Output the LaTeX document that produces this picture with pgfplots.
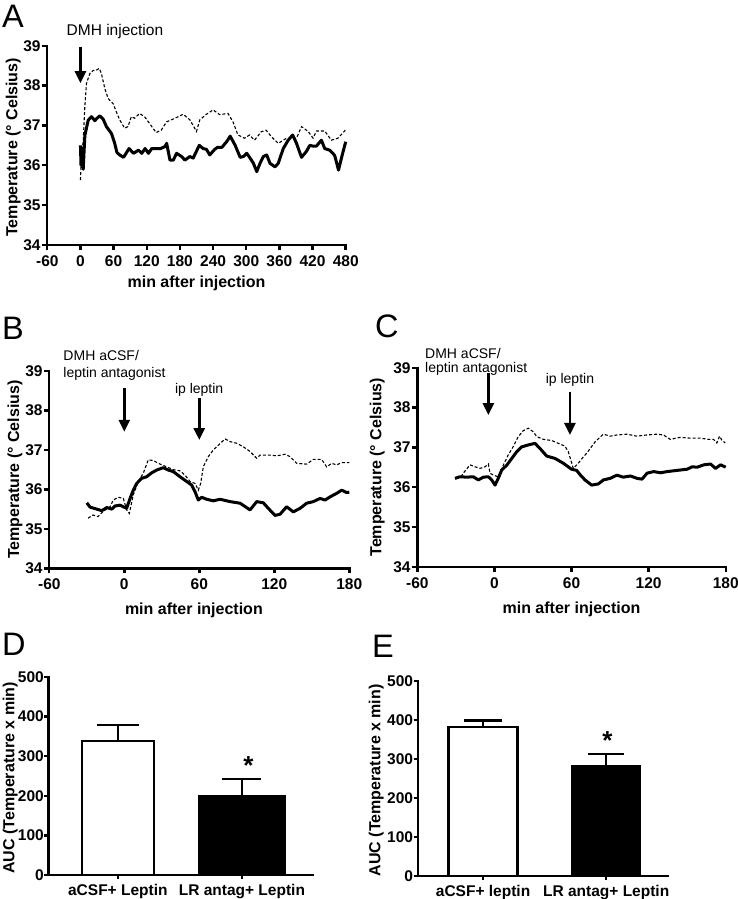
\documentclass[border=0pt]{standalone}
\usepackage{fontspec}
\setmainfont{Liberation Sans}
\usepackage{pgfplots}
\pgfplotsset{compat=1.18}
\usetikzlibrary{arrows.meta}
\pgfplotsset{
  gp/.style={
    scale only axis, axis lines*=left, clip=false, anchor=south west,
    axis line style={line width=2.4pt, line cap=rect},
    every tick/.style={black, line width=2.4pt},
    major tick length=5pt, tick align=outside,
    tick label style={font=\bfseries\fontsize{15.5}{15.5}\selectfont},
    yticklabel style={inner sep=1.5pt},
    xticklabel style={yshift=-2pt},
    label style={font=\bfseries\fontsize{16}{16}\selectfont},
    /pgf/number format/assume math mode=true,
    ylabel style={anchor=center},
    xlabel style={anchor=center},
  },
  solidline/.style={black, line width=3pt, line join=round},
  dashline/.style={black, line width=1.1pt, dash pattern=on 3pt off 2pt},
  errb/.style={error bars/.cd, y dir=plus, y explicit,
    error bar style={line width=2.4pt, black, solid},
    error mark options={rotate=90, line width=2.4pt, mark size=#1, black}},
}
\tikzset{
  arr/.style={-{Triangle[width=11pt,length=12pt]}, line width=2.6pt},
  annA/.style={font=\fontsize{15.5}{18}\selectfont},
  annB/.style={font=\fontsize{14}{16.7}\selectfont, align=left, inner sep=0pt},
}
\begin{document}
\begin{tikzpicture}
\useasboundingbox (0,0) rectangle (737pt,-899pt);
% panel letters
\node[anchor=north west, inner sep=0, font=\fontsize{32.5}{32}\selectfont] at (2pt,-5pt) {A};
\node[anchor=north west, inner sep=0, font=\fontsize{32.5}{32}\selectfont] at (2pt,-317pt) {B};
\node[anchor=north west, inner sep=0, font=\fontsize{32.5}{32}\selectfont] at (375pt,-315pt) {C};
\node[anchor=north west, inner sep=0, font=\fontsize{32.5}{32}\selectfont] at (2pt,-633pt) {D};
\node[anchor=north west, inner sep=0, font=\fontsize{32.5}{32}\selectfont] at (372pt,-635pt) {E};

% ---------------- A ----------------
\begin{axis}[gp, at={(47.3pt,-245pt)}, width=298.4pt, height=199.3pt,
  xmin=-60, xmax=480, xtick={-60,0,...,480}, ymin=34, ymax=39, ytick={34,...,39},
  xlabel={min after injection}, ylabel={Temperature (° Celsius)},
  xlabel style={at={(axis description cs:0.5,-0.192)}},
  ylabel style={at={(axis description cs:-0.114,0.49)}}]
\addplot[dashline] coordinates {
(0,35.63) (2,36.3) (5,36.6) (8,37.5) (11,38.06) (17,38.3) (23,38.38) (28,38.38) (34,38.43) (38,38.3)
(44,37.93) (50,37.68) (55,37.6) (59,37.55) (65,37.34) (71,37.14) (80,36.93) (86,36.97) (92,37.22) (98,37.18)
(107,37.3) (116,37.22) (125,37.05) (137,36.82) (146,36.88) (156,37.09) (171,37.18) (186,37.28) (198,37.14) (210,36.85)
(216,37.14) (228,37.28) (240,37.39) (252,37.27) (267,37.3) (276,37.09) (285,36.76) (297,36.68) (306,36.76) (315,36.63)
(327,36.84) (336,36.88) (346,36.71) (358,36.55) (373,36.68) (391,36.68) (400,36.97) (412,36.85) (421,36.68) (427,36.86)
(442,36.86) (454,36.63) (466,36.68) (478,36.86) (480,36.9)};
\addplot[solidline] coordinates {
(0,36.5) (1,36.0) (2,36.45) (3,35.95) (4,36.3) (5,35.9) (6,36.2) (8,36.75) (14,37.13) (20,37.22)
(26,37.12) (30,37.18) (35,37.24) (41,37.16) (47,36.97) (56,36.8) (62,36.55) (66,36.32) (72,36.25) (78,36.2)
(88,36.42) (96,36.3) (105,36.38) (111,36.3) (117,36.42) (123,36.3) (129,36.42) (135,36.42) (145,36.42) (153,36.47)
(156,36.55) (162,36.13) (168,36.13) (174,36.3) (183,36.22) (189,36.13) (198,36.22) (204,36.18) (215,36.5) (222,36.42)
(228,36.4) (234,36.26) (243,36.4) (248,36.45) (256,36.45) (265,36.6) (271,36.73) (280,36.5) (289,36.2) (295,36.22)
(301,36.3) (307,36.18) (313,36.05) (319,35.84) (325,36.05) (331,36.22) (337,36.26) (343,36.05) (352,35.96) (358,36.05)
(367,36.42) (376,36.63) (384,36.76) (391,36.55) (400,36.2) (409,36.35) (415,36.5) (421,36.48) (427,36.48) (436,36.63)
(442,36.42) (451,36.38) (460,36.25) (467,35.88) (473,36.22) (480,36.59)};
\draw[arr] (axis cs:0,38.97) -- (axis cs:0,38.06);
\node[annA] at (axis cs:62.4,39.35) {DMH injection};
\end{axis}

% ---------------- B ----------------
\begin{axis}[gp, at={(49.3pt,-568.3pt)}, width=300pt, height=197.3pt,
  xmin=-60, xmax=180, xtick={-60,0,...,180}, ymin=34, ymax=39, ytick={34,...,39},
  xlabel={min after injection}, ylabel={Temperature (° Celsius)},
  xlabel style={at={(axis description cs:0.482,-0.213)}},
  ylabel style={at={(axis description cs:-0.114,0.5)}}]
\addplot[dashline] coordinates {
(-29,35.27) (-25,35.35) (-21,35.31) (-17,35.44) (-11.4,35.56) (-8.8,35.73) (-4.8,35.8) (-0.8,35.77) (1.9,35.48) (4.0,35.39)
(7.2,35.86) (11.2,36.2) (15.2,36.41) (19.2,36.75) (23.2,36.73) (28.6,36.64) (33.9,36.57) (39.2,36.5) (44.6,36.47) (48.6,36.36)
(52.6,36.2) (56.6,36.15) (59.2,35.98) (61.1,36.15) (63.2,36.57) (67.2,36.83) (71.2,37.0) (73.9,37.08) (80.6,37.28) (84.6,37.21)
(89.9,37.17) (95.2,37.08) (100.6,36.96) (105.9,36.79) (108.6,36.87) (116.6,36.87) (121.9,36.85) (128.6,36.89) (132.6,36.83) (137.9,36.66)
(145.9,36.64) (151.2,36.76) (157.9,36.76) (161.9,36.57) (165.9,36.66) (169.9,36.62) (173.9,36.68) (180,36.68)};
\addplot[solidline] coordinates {
(-30,35.66) (-27.4,35.55) (-22,35.5) (-18,35.46) (-14,35.54) (-10,35.5) (-7.4,35.58) (-3.4,35.6) (-0.8,35.56) (1.9,35.52)
(4.6,35.77) (7.2,35.98) (9.9,36.15) (13.9,36.28) (17.9,36.32) (21.9,36.42) (25.9,36.49) (31.2,36.55) (35.2,36.49) (39.2,36.45)
(44.6,36.32) (49.9,36.2) (53.9,36.11) (56.6,35.94) (59.2,35.73) (61.9,35.8) (65.9,35.75) (68.6,35.73) (71.2,35.71) (76.6,35.75)
(84.6,35.69) (92.6,35.65) (100.6,35.48) (105.9,35.69) (111.2,35.66) (115.2,35.52) (120.6,35.34) (124.6,35.37) (129.9,35.56) (135.2,35.43)
(140.6,35.52) (145.9,35.65) (151.2,35.69) (156.6,35.77) (160.6,35.73) (164.6,35.81) (169.9,35.9) (173.9,35.98) (177.9,35.92) (180,35.93)};
\draw[arr] (axis cs:0,38.56) -- (axis cs:0,37.46);
\draw[arr] (axis cs:60,38.32) -- (axis cs:60,37.25);
\node[annB, anchor=west] at (axis cs:-48.8,39.15) {DMH aCSF/\\leptin antagonist};
\node[annB] at (axis cs:59.9,38.52) {ip leptin};
\end{axis}

% ---------------- C ----------------
\begin{axis}[gp, at={(417.3pt,-566.7pt)}, width=308.4pt, height=199pt,
  xmin=-60, xmax=180, xtick={-60,0,...,180}, ymin=34, ymax=39, ytick={34,...,39},
  xlabel={min after injection}, ylabel={Temperature (° Celsius)},
  xlabel style={at={(axis description cs:0.5,-0.216)}},
  ylabel style={at={(axis description cs:-0.130,0.5)}}]
\addplot[dashline] coordinates {
(-26,36.26) (-24.2,36.35) (-19,36.56) (-15.1,36.51) (-11.2,36.47) (-7.3,36.51) (-4.7,36.58) (-3.4,36.35) (-0.9,36.3) (3.0,36.26)
(6.9,36.55) (10.8,36.81) (14.7,37.02) (18.6,37.27) (22.5,37.42) (26.4,37.48) (30.3,37.39) (32.9,37.27) (38.1,37.2) (44.6,37.17)
(49.7,37.1) (54.9,37.03) (57.5,36.89) (61.4,36.47) (65.3,36.6) (69.2,36.76) (71.8,36.85) (78.4,37.14) (84.8,37.33) (90.1,37.28)
(95.3,37.31) (103.1,37.33) (110.8,37.28) (118.6,37.31) (126.4,37.33) (131.6,37.31) (136.8,37.2) (144.6,37.25) (152.4,37.23) (160.2,37.23)
(166.6,37.2) (170.5,37.2) (173.1,37.11) (175.2,37.28) (177,37.18) (179.6,37.11)};
\addplot[solidline] coordinates {
(-30.7,36.22) (-26.8,36.26) (-21.6,36.25) (-16.4,36.26) (-12.5,36.18) (-8.6,36.25) (-4.7,36.26) (-2.1,36.18) (0.5,36.05) (3.0,36.22)
(5.7,36.43) (9.6,36.55) (13.5,36.72) (17.4,36.89) (21.2,37.01) (26.4,37.06) (31.6,37.1) (35.5,36.97) (40.7,36.78) (47.2,36.72)
(53.6,36.6) (60,36.45) (64,36.42) (67,36.3) (70.5,36.18) (75.7,36.05) (80.9,36.08) (84.8,36.18) (90.1,36.22) (95.3,36.3)
(100.3,36.25) (105.8,36.28) (111,36.22) (114.9,36.2) (118.8,36.35) (124,36.39) (129.2,36.36) (134.4,36.39) (139.6,36.41) (144.8,36.43)
(150,36.45) (153.9,36.51) (157.8,36.5) (163,36.56) (168.2,36.58) (172.1,36.47) (176,36.56) (180,36.5)};
\draw[arr] (axis cs:-4.7,38.86) -- (axis cs:-4.7,37.81);
\draw[arr] (axis cs:58.8,38.40) -- (axis cs:58.8,37.31);
\node[annB, anchor=west, font=\fontsize{14}{14}\selectfont] at (axis cs:-54,39.15) {DMH aCSF/\\leptin antagonist};
\node[annB] at (axis cs:58.8,38.69) {ip leptin};
\end{axis}

% ---------------- D ----------------
\begin{axis}[gp, at={(48.5pt,-875pt)}, width=264.5pt, height=198pt,
  xmin=0.441, xmax=2.573, ymin=0, ymax=500, ytick={0,100,...,500},
  xtick={1,2}, xticklabels={aCSF+ Leptin, LR antag+ Leptin},
  major tick length=4pt, yticklabel style={inner sep=0.5pt},
  ylabel={AUC (Temperature x min)},
  ylabel style={at={(axis description cs:-0.145,0.49)}}]
\addplot[ybar, bar shift=0pt, bar width=0.58, fill=white, draw=black, line width=2.4pt, errb=21pt]
  coordinates {(1,338) +- (0,41)};
\addplot[ybar, bar shift=0pt, bar width=0.69, fill=black, draw=black, line width=2.4pt, errb=19.5pt]
  coordinates {(2,198) +- (0,45)};
\node[anchor=north, inner sep=0, font=\bfseries\fontsize{26}{26}\selectfont] at (axis cs:2.053,299) {*};
\end{axis}

% ---------------- E ----------------
\begin{axis}[gp, at={(417.7pt,-876pt)}, width=250.3pt, height=195.3pt,
  xmin=0.469, xmax=2.502, ymin=0, ymax=500, ytick={0,100,...,500},
  xtick={1,2}, xticklabels={aCSF+ leptin, LR antag+ Leptin},
  major tick length=4pt, yticklabel style={inner sep=0.5pt},
  ylabel={AUC (Temperature x min)},
  ylabel style={at={(axis description cs:-0.166,0.49)}}]
\addplot[ybar, bar shift=0pt, bar width=0.56, fill=white, draw=black, line width=2.4pt, errb=19pt]
  coordinates {(1,381) +- (0,17)};
\addplot[ybar, bar shift=0pt, bar width=0.55, fill=black, draw=black, line width=2.4pt, errb=18pt]
  coordinates {(2,282) +- (0,31)};
\node[anchor=north, inner sep=0, font=\bfseries\fontsize{26}{26}\selectfont] at (axis cs:2.01,369) {*};
\end{axis}
\end{tikzpicture}
\end{document}
